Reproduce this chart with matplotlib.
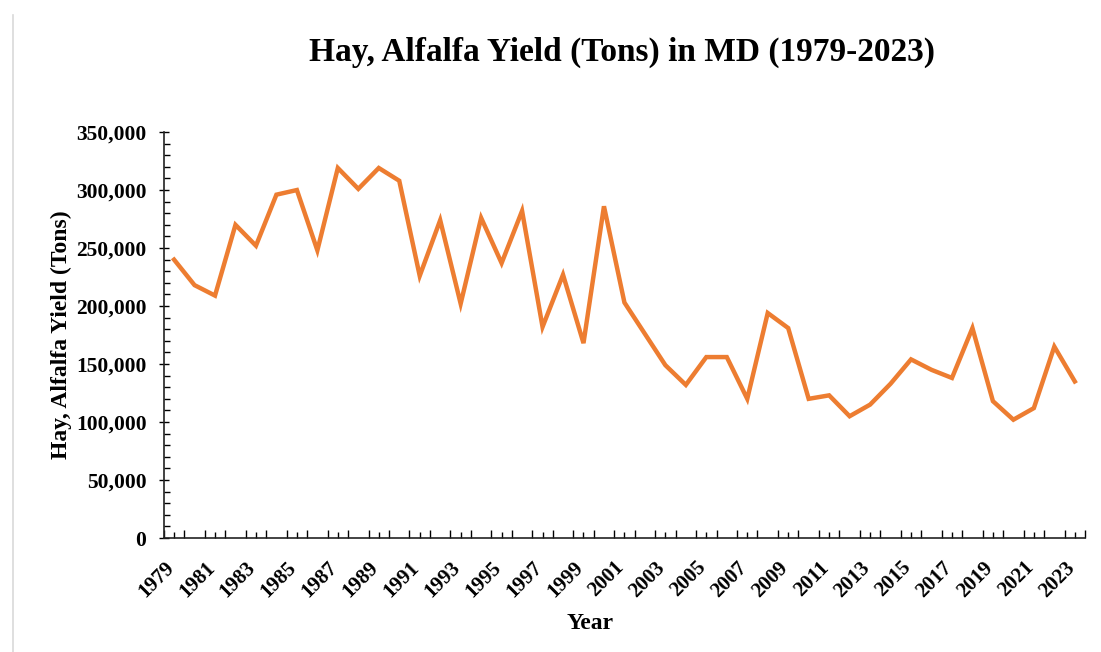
import matplotlib
matplotlib.use("Agg")
import matplotlib.pyplot as plt
import matplotlib.ticker as ticker
import matplotlib.transforms as mtransforms
from matplotlib.lines import Line2D

# Maryland alfalfa hay yield, tons per year
years = list(range(1979, 2024))
yield_tons = [
    240000, 218000, 209000, 270000, 252000, 296000, 300000, 248000, 319000, 301000,
    319000, 308000, 226000, 274000, 202000, 276000, 237000, 282000, 182000, 227000,
    168000, 286000, 203000, 176000, 149000, 132000, 156000, 156000, 120000, 194000,
    181000, 120000, 123000, 105000, 115000, 133000, 154000, 145000, 138000, 181000,
    118000, 102000, 112000, 165000, 135000,
]
tick_years = years[::2]

plt.rcParams['font.family'] = ['Liberation Serif', 'DejaVu Serif']
plt.rcParams['font.weight'] = 'bold'

fig = plt.figure(figsize=(11.01, 6.52), dpi=100)
ax = fig.add_axes([0.1488, 0.1748, 0.8367, 0.6227])

ax.plot(years, yield_tons, color='#ED7D31', linewidth=3.2, solid_joinstyle='miter')

ax.set_xlim(1978.5, 2023.5)
ax.set_ylim(0, 350000)

for side in ['top', 'right']:
    ax.spines[side].set_visible(False)
for side in ['left', 'bottom']:
    ax.spines[side].set_linewidth(1.2)
    ax.spines[side].set_color('#222222')

# y axis: labelled every 50k, small inward ticks every 10k
ax.yaxis.set_major_locator(ticker.MultipleLocator(50000))
ax.yaxis.set_minor_locator(ticker.MultipleLocator(10000))
ax.yaxis.set_major_formatter(ticker.FuncFormatter(lambda v, _: f"{v:,.0f}"))
ax.tick_params(axis='y', which='major', direction='inout', length=7, width=1.0,
               pad=9, labelsize=15.5)
ax.tick_params(axis='y', which='minor', direction='in', length=4, width=1.0)

# x axis: ticks between categories and at each year, labels every other year
ax.xaxis.set_major_locator(ticker.FixedLocator(tick_years))
ax.xaxis.set_minor_locator(ticker.FixedLocator([y + 0.5 for y in range(1978, 2024)]))
ax.set_xticklabels([str(y) for y in tick_years], rotation=45, ha='right', va='top')
ax.tick_params(axis='x', which='major', direction='in', length=4, width=1.0,
               pad=14, labelsize=15)
ax.tick_params(axis='x', which='minor', direction='in', length=6, width=1.0)
shift = mtransforms.ScaledTranslation(4 / 100, 0, fig.dpi_scale_trans)
for lbl in ax.get_xticklabels():
    lbl.set_transform(lbl.get_transform() + shift)

ax.set_xlabel('Year', fontsize=17, fontweight='bold')
ax.xaxis.set_label_coords(0.463, -0.185)
ax.set_ylabel('Hay, Alfalfa Yield (Tons)', fontsize=17, fontweight='bold', labelpad=3)
fig.suptitle('Hay, Alfalfa Yield (Tons) in MD (1979-2023)', x=0.565, y=0.943,
             fontsize=24, fontweight='bold')

# thin frame line on the left edge
fig.add_artist(Line2D([0.0115, 0.0115], [0.0, 0.977], transform=fig.transFigure,
                      color='#d9d9d9', linewidth=1.2))

fig.savefig('out.png', dpi=100, facecolor='white')
